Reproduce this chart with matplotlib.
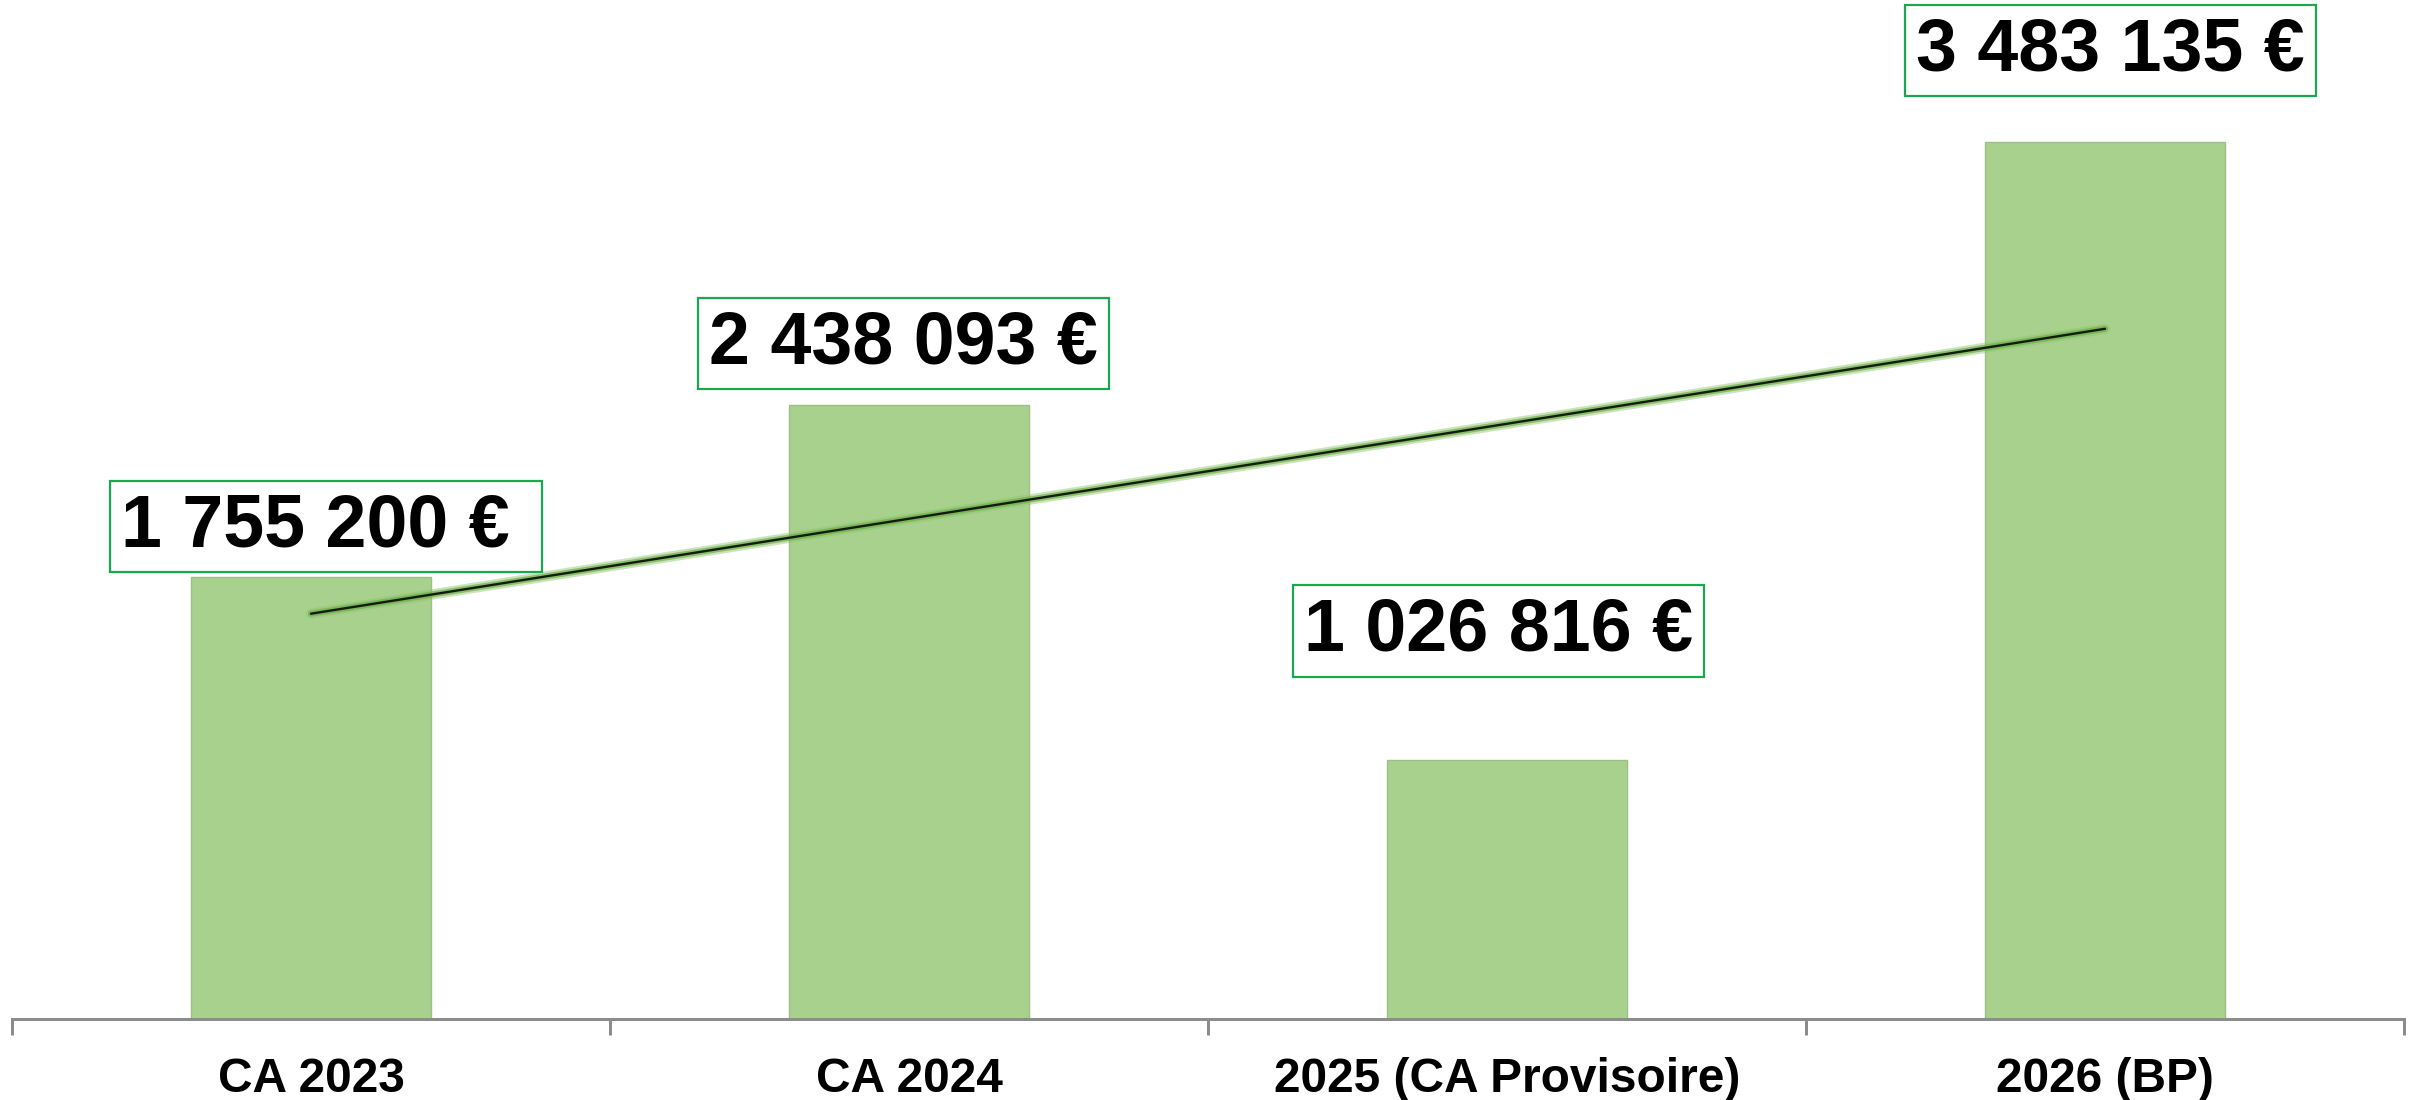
import numpy as np
import matplotlib
matplotlib.use("Agg")
import matplotlib.pyplot as plt

# ---- data ----
categories = ['CA 2023', 'CA 2024', '2025 (CA Provisoire)', '2026 (BP)']
values = [1755200, 2438093, 1026816, 3483135]
label_trailing = [' ', '', '', '']

# ---- style ----
DPI = 100
W, H = 2418, 1100
px = 72.0 / DPI  # points per pixel
bar_color = '#A9D18E'
bar_edge = '#9DBE85'
box_edge = '#18A84F'
axis_gray = '#8C8C8C'
# label box offsets from bar top (pixels)
label_dx = [15, -5.5, -8.5, 5.5]
label_dy = [50.5, 61.5, 129.5, 91.5]

plt.rcParams['font.family'] = ['Liberation Sans', 'DejaVu Sans']

fig = plt.figure(figsize=(W / DPI, H / DPI), dpi=DPI)
ax = fig.add_axes([12 / W, (H - 1019) / H, (2404 - 12) / W, (1019 - 12) / H])

x = np.arange(len(categories))
ax.bar(x, values, width=0.40, color=bar_color, edgecolor=bar_edge,
       linewidth=1.0, zorder=2)

# linear trendline
coef = np.polyfit(x, values, 1)
trend = np.polyval(coef, x)
ax.plot(x, trend, color='#8CC46A', lw=7.5, alpha=0.45, solid_capstyle='round', zorder=3)
ax.plot(x, trend, color='#6DAE4A', lw=4.5, alpha=0.7, solid_capstyle='round', zorder=3)
ax.plot(x, trend, color='#141C0E', lw=1.7, solid_capstyle='round', zorder=4)

# value labels
for i, v in enumerate(values):
    txt = f"{v:,}".replace(',', ' ') + ' €' + label_trailing[i]
    ax.annotate(txt, xy=(i, v), xytext=(label_dx[i] * px, label_dy[i] * px),
                textcoords='offset points', ha='center', va='center',
                fontsize=53, fontweight='bold', color='black',
                bbox=dict(boxstyle='square,pad=0.15', facecolor='white',
                          edgecolor=box_edge, linewidth=1.6),
                zorder=5, annotation_clip=False)

ax.set_xlim(-0.5, len(categories) - 0.5)
ax.set_ylim(0, 4000000)

for s in ['top', 'right', 'left']:
    ax.spines[s].set_visible(False)
ax.spines['bottom'].set_color(axis_gray)
ax.spines['bottom'].set_linewidth(3 * px)
ax.spines['bottom'].set_zorder(6)
ax.set_yticks([])

ax.set_xticks(np.arange(len(categories) + 1) - 0.5)
ax.set_xticklabels([])
ax.tick_params(axis='x', which='major', length=16 * px, width=3 * px,
               color=axis_gray, direction='out')
ax.set_xticks(x, minor=True)
ax.set_xticklabels(categories, minor=True, fontsize=34.5, fontweight='bold')
ax.tick_params(axis='x', which='minor', length=0, pad=38 * px)

fig.savefig('out.png', dpi=DPI, facecolor='white')
